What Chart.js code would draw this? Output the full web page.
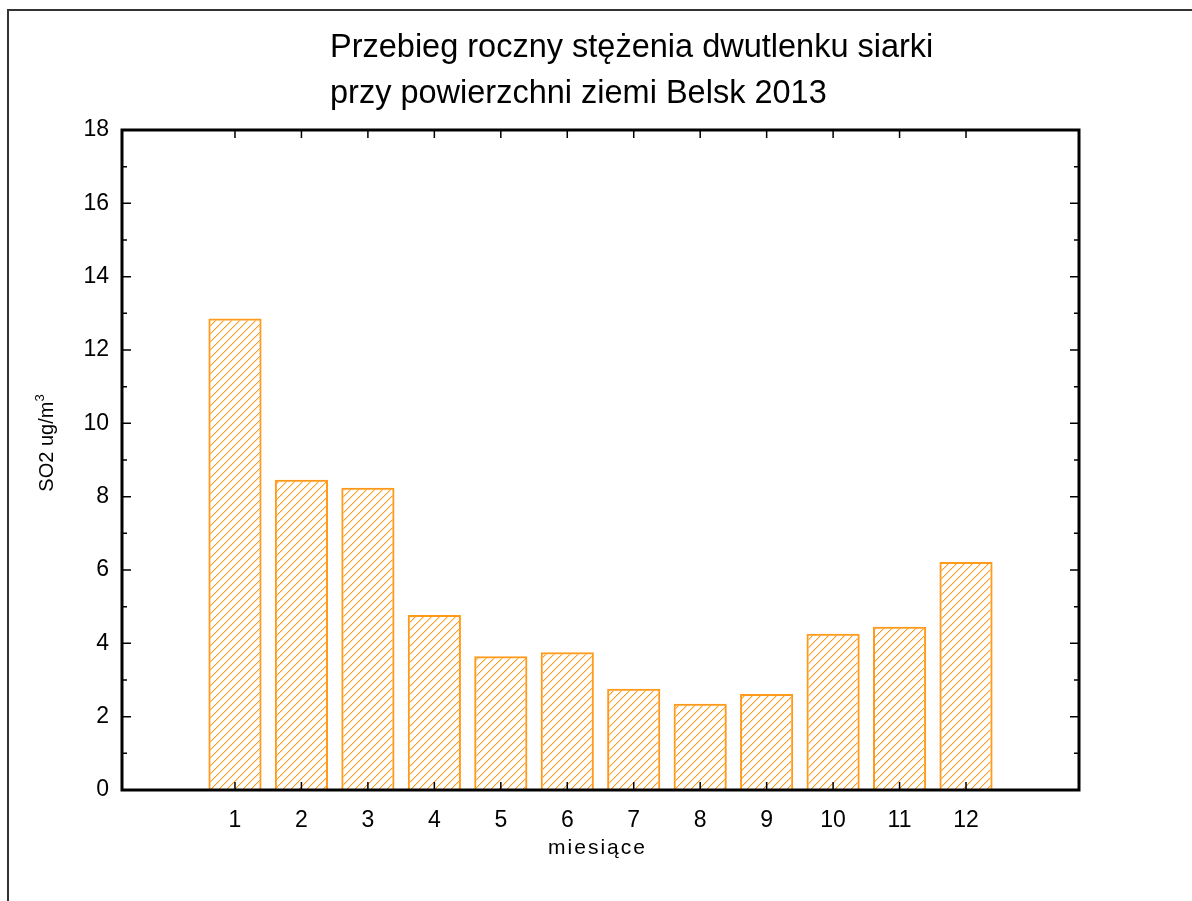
<!DOCTYPE html>
<html lang="pl">
<head>
<meta charset="UTF-8">
<title>Przebieg roczny stężenia dwutlenku siarki</title>
<script src="https://cdn.jsdelivr.net/npm/chart.js"></script>
<style>
    body {
        margin: 0;
        background: #fff;
    }
    #wrap {
        width: 1192px;
        height: 901px;
    }
</style>
</head>
<body>
<div id="wrap"><canvas id="so2" width="1192" height="901"></canvas></div>
<script>
    // data
    const months = [1, 2, 3, 4, 5, 6, 7, 8, 9, 10, 11, 12];
    const so2Values = [12.86, 8.46, 8.24, 4.77, 3.65, 3.76, 2.76, 2.35, 2.62, 4.26, 4.45, 6.22];
    const yTickValues = [0, 2, 4, 6, 8, 10, 12, 14, 16, 18];
    const titleLines = ["Przebieg roczny stężenia dwutlenku siarki", "przy powierzchni ziemi Belsk 2013"];
    const xAxisTitle = "miesiące";
    const yAxisTitle = "SO2 ug/m";
    const yAxisTitleSup = "3";

    const FONT = "'Liberation Sans', Arial, sans-serif";
    const ORANGE = "#ff9a1a";

    const canvas = document.getElementById("so2");

    // diagonal hatch fill for the bars, drawn pixel by pixel
    function makeHatch(color) {
        const c = document.createElement("canvas");
        c.width = 8;
        c.height = 8;
        const g = c.getContext("2d");
        g.fillStyle = color;
        for (let i = 0; i < 8; i++) {
            g.globalAlpha = 1;
            g.fillRect(i, 7 - i, 1, 1);
            g.globalAlpha = 0.35;
            g.fillRect((i + 1) % 8, 7 - i, 1, 1);
        }
        return canvas.getContext("2d").createPattern(c, "repeat");
    }

    // box, inward ticks, titles and outer frame
    const decorations = {
        id: "decorations",
        afterDatasetsDraw(chart) {
            const { ctx, chartArea: a, scales: { x, y } } = chart;
            ctx.save();
            ctx.strokeStyle = "#000";
            ctx.lineWidth = 1.5;
            ctx.beginPath();
            for (let v = 0; v <= 18; v++) {
                const py = y.getPixelForValue(v);
                const len = v % 2 === 0 ? 9 : 5;
                ctx.moveTo(a.left, py);
                ctx.lineTo(a.left + len, py);
                ctx.moveTo(a.right, py);
                ctx.lineTo(a.right - len, py);
            }
            months.forEach(m => {
                const px = x.getPixelForValue(m);
                ctx.moveTo(px, a.bottom);
                ctx.lineTo(px, a.bottom - 8);
                ctx.moveTo(px, a.top);
                ctx.lineTo(px, a.top + 8);
            });
            ctx.stroke();
            ctx.lineWidth = 3;
            ctx.strokeRect(a.left, a.top, a.right - a.left, a.bottom - a.top);
            ctx.restore();
        },
        afterDraw(chart) {
            const { ctx, chartArea: a } = chart;
            ctx.save();
            // outer frame (left and top edge visible)
            ctx.strokeStyle = "#333";
            ctx.lineWidth = 2;
            ctx.beginPath();
            ctx.moveTo(8, 901);
            ctx.lineTo(8, 10);
            ctx.lineTo(1192, 10);
            ctx.stroke();

            ctx.fillStyle = "#000";
            ctx.textAlign = "left";
            ctx.textBaseline = "alphabetic";
            ctx.font = "32.5px " + FONT;
            ctx.fillText(titleLines[0], 330, 57);
            ctx.fillText(titleLines[1], 330, 103);

            // x axis title
            ctx.font = "21px " + FONT;
            ctx.letterSpacing = "2px";
            ctx.textAlign = "center";
            ctx.fillText(xAxisTitle, (a.left + a.right) / 2 - 3, 854);
            ctx.letterSpacing = "0px";

            // y axis title with superscript
            ctx.translate(53, 443);
            ctx.rotate(-Math.PI / 2);
            ctx.font = "20px " + FONT;
            const w1 = ctx.measureText(yAxisTitle).width;
            ctx.font = "13px " + FONT;
            const w2 = ctx.measureText(yAxisTitleSup).width;
            const start = -(w1 + w2) / 2;
            ctx.textAlign = "left";
            ctx.font = "20px " + FONT;
            ctx.fillText(yAxisTitle, start, 0);
            ctx.font = "13px " + FONT;
            ctx.fillText(yAxisTitleSup, start + w1, -9);
            ctx.restore();
        }
    };

    new Chart(canvas, {
        type: "bar",
        data: {
            datasets: [{
                data: months.map((m, i) => ({ x: m, y: so2Values[i] })),
                backgroundColor: makeHatch(ORANGE),
                borderColor: ORANGE,
                borderWidth: 2,
                barPercentage: 0.8,
                categoryPercentage: 1.0
            }]
        },
        options: {
            responsive: false,
            animation: false,
            layout: {
                padding: { left: 0, right: 113, top: 130, bottom: 41 }
            },
            plugins: {
                legend: { display: false },
                title: { display: false },
                tooltip: { enabled: false }
            },
            scales: {
                x: {
                    type: "linear",
                    offset: false,
                    min: -0.7,
                    max: 13.7,
                    afterBuildTicks: s => { s.ticks = months.map(v => ({ value: v })); },
                    afterFit: s => { s.height = 70; },
                    grid: { display: false, drawTicks: false, offset: false },
                    border: { display: false },
                    ticks: {
                        color: "#000",
                        padding: 17,
                        maxRotation: 0,
                        autoSkip: false,
                        font: { family: FONT, size: 23 }
                    }
                },
                y: {
                    min: 0,
                    max: 18,
                    afterBuildTicks: s => { s.ticks = yTickValues.map(v => ({ value: v })); },
                    afterFit: s => { s.width = 122; },
                    grid: { display: false, drawTicks: false },
                    border: { display: false },
                    ticks: {
                        color: "#000",
                        padding: 13,
                        font: { family: FONT, size: 23 }
                    }
                }
            }
        },
        plugins: [decorations]
    });
</script>
</body>
</html>
